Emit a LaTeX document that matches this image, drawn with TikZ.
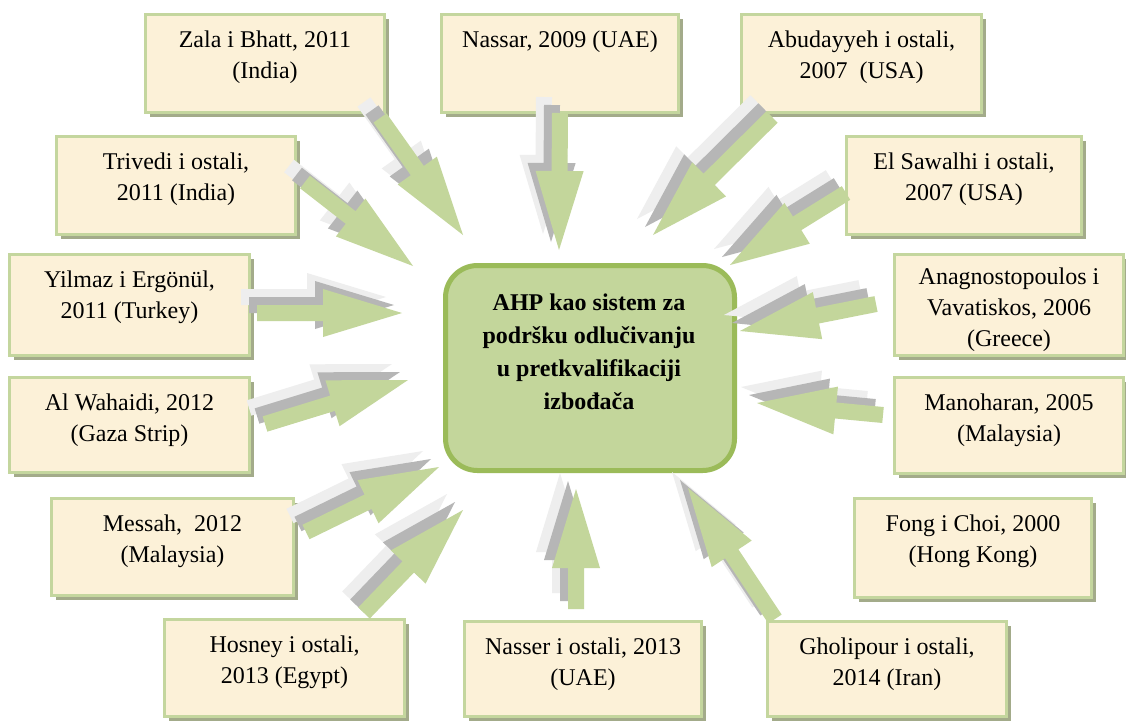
\documentclass[tikz,border=0pt]{standalone}
\usepackage{fontspec}
\setmainfont{Liberation Serif}
\usetikzlibrary{calc,shadows}
\definecolor{boxfill}{RGB}{252,241,216}
\definecolor{boxline}{RGB}{196,214,158}
\definecolor{boxshadow}{RGB}{163,171,138}
\definecolor{cfill}{RGB}{195,214,155}
\definecolor{cline}{RGB}{155,187,89}
\definecolor{arrgreen}{RGB}{195,214,155}
\definecolor{shdark}{RGB}{182,182,182}
\definecolor{shlight}{RGB}{238,238,238}
\tikzset{
  refbox/.style={draw=boxline, line width=3pt, fill=boxfill, anchor=north west, inner sep=0pt,
    drop shadow={shadow xshift=4pt, shadow yshift=-4pt, fill=boxshadow, opacity=1}},
  reftext/.style={font=\fontsize{24}{31}\selectfont, align=center, inner sep=0pt, anchor=north},
  centerbox/.style={draw=cline, line width=5pt, fill=cfill, rounded corners=32pt, anchor=north west, inner sep=0pt},
  centertext/.style={font=\bfseries\fontsize{24}{33}\selectfont, align=center, inner sep=0pt, anchor=north},
}
% block arrow from tail coordinate #1 to tip coordinate #2, colour #3, canvas offset #4
\newcommand\bkArrowLayer[4]{%
  \path (#1); \pgfgetlastxy{\bkAx}{\bkAy}%
  \path (#2); \pgfgetlastxy{\bkBx}{\bkBy}%
  \pgfmathsetmacro\bkAng{atan2(\bkBy-\bkAy,\bkBx-\bkAx)}%
  \pgfmathsetmacro\bkLen{veclen(\bkBx-\bkAx,\bkBy-\bkAy)}%
  \begin{scope}[shift={(\bkAx,\bkAy)}, shift={#4}, rotate=\bkAng]
    \fill[#3] (0pt,8pt) -- ({\bkLen pt-79pt},8pt) -- ({\bkLen pt-79pt},24pt) -- (\bkLen pt,0pt)
      -- ({\bkLen pt-79pt},-24pt) -- ({\bkLen pt-79pt},-8pt) -- (0pt,-8pt) -- cycle;
  \end{scope}}
\newcommand\bkArrow[2]{%
  \bkArrowLayer{#1}{#2}{shlight}{(-16pt,16pt)}%
  \bkArrowLayer{#1}{#2}{shdark}{(-8pt,8pt)}%
  \bkArrowLayer{#1}{#2}{arrgreen}{(0pt,0pt)}}
\begin{document}
\begin{tikzpicture}[x=1pt,y=-1pt]
\useasboundingbox (0,0) rectangle (1126,721);
\fill[white] (0,0) rectangle (1126,721);

% reference boxes
\node[refbox, minimum width=239pt, minimum height=98pt] (zala) at (144,13) {};
\node[refbox, minimum width=237pt, minimum height=98pt] (nassar) at (440,13) {};
\node[refbox, minimum width=240pt, minimum height=98pt] (abud) at (740,13) {};
\node[refbox, minimum width=239pt, minimum height=98pt] (trivedi) at (55,135) {};
\node[refbox, minimum width=235pt, minimum height=98pt] (elsaw) at (845,135) {};
\node[refbox, minimum width=240pt, minimum height=101pt] (yilmaz) at (8,253) {};
\node[refbox, minimum width=229pt, minimum height=101pt] (anagno) at (893,253) {};
\node[refbox, minimum width=240pt, minimum height=95pt] (wahaidi) at (8,376) {};
\node[refbox, minimum width=229pt, minimum height=96pt] (manoh) at (893,376) {};
\node[refbox, minimum width=242pt, minimum height=97pt] (messah) at (50,497) {};
\node[refbox, minimum width=237pt, minimum height=99pt] (fong) at (853,497) {};
\node[refbox, minimum width=240pt, minimum height=97pt] (hosney) at (163,618) {};
\node[refbox, minimum width=237pt, minimum height=95pt] (nasser) at (463,620) {};
\node[refbox, minimum width=239pt, minimum height=95pt] (ghol) at (766,620) {};

\node[reftext] (zalat) at ($(zala.north)+(0,18)$) {Zala i Bhatt, 2011\\(India)};
\node[reftext] (nassart) at ($(nassar.north)+(0,18)$) {Nassar, 2009 (UAE)};
\node[reftext] (abudt) at ($(abud.north)+(0,18)$) {Abudayyeh i ostali,\\2007\ \ (USA)};
\node[reftext] (trivedit) at ($(trivedi.north)+(0,18)$) {Trivedi i ostali,\\2011 (India)};
\node[reftext] (elsawt) at ($(elsaw.north)+(0,18)$) {El Sawalhi i ostali,\\2007 (USA)};
\node[reftext] (yilmazt) at ($(yilmaz.north)+(0,18)$) {Yilmaz i Ergönül,\\2011 (Turkey)};
\node[reftext] (anagnot) at ($(anagno.north)+(0,15)$) {Anagnostopoulos i\\Vavatiskos, 2006\\(Greece)};
\node[reftext] (wahaidit) at ($(wahaidi.north)+(0,18)$) {Al Wahaidi, 2012\\(Gaza Strip)};
\node[reftext] (manoht) at ($(manoh.north)+(0,18)$) {Manoharan, 2005\\(Malaysia)};
\node[reftext] (messaht) at ($(messah.north)+(0,18)$) {Messah,\ \ 2012\\(Malaysia)};
\node[reftext] (fongt) at ($(fong.north)+(0,18)$) {Fong i Choi, 2000\\(Hong Kong)};
\node[reftext] (hosneyt) at ($(hosney.north)+(0,18)$) {Hosney i ostali,\\2013 (Egypt)};
\node[reftext] (nassert) at ($(nasser.north)+(0,18)$) {Nasser i ostali, 2013\\(UAE)};
\node[reftext] (gholt) at ($(ghol.north)+(0,18)$) {Gholipour i ostali,\\2014 (Iran)};

% central box
\node[centerbox, minimum width=289pt, minimum height=205pt] (ahp) at (443,263) {};
\node[centertext] (ahpt) at (589,294) {AHP kao sistem za\\podršku odlučivanju\\u pretkvalifikaciji\\izbođača};

% arrow end points
\coordinate (a1s) at (380,118);  \coordinate (a1e) at (463,235);
\coordinate (a2s) at (560,113);  \coordinate (a2e) at (559,250);
\coordinate (a3s) at (772,117);  \coordinate (a3e) at (653,235);
\coordinate (a4s) at (305,182);  \coordinate (a4e) at (413,266);
\coordinate (a5s) at (846,193);  \coordinate (a5e) at (730,265);
\coordinate (a6s) at (257,313);  \coordinate (a6e) at (402,313);
\coordinate (a7s) at (876,304);  \coordinate (a7e) at (740,331);
\coordinate (a8s) at (265,424);  \coordinate (a8e) at (408,380);
\coordinate (a9s) at (883,415);  \coordinate (a9e) at (757,403);
\coordinate (a10s) at (306,532); \coordinate (a10e) at (439,467);
\coordinate (a11s) at (364,613); \coordinate (a11e) at (463,510);
\coordinate (a12s) at (576,609); \coordinate (a12e) at (576,489);
\coordinate (a13s) at (775,619); \coordinate (a13e) at (688,488);

\bkArrow{a1s}{a1e}
\bkArrow{a2s}{a2e}
\bkArrow{a3s}{a3e}
\bkArrow{a4s}{a4e}
\bkArrow{a5s}{a5e}
\bkArrow{a6s}{a6e}
\bkArrow{a7s}{a7e}
\bkArrow{a8s}{a8e}
\bkArrow{a9s}{a9e}
\bkArrow{a10s}{a10e}
\bkArrow{a11s}{a11e}
\bkArrow{a12s}{a12e}
\bkArrow{a13s}{a13e}
\end{tikzpicture}
\end{document}
